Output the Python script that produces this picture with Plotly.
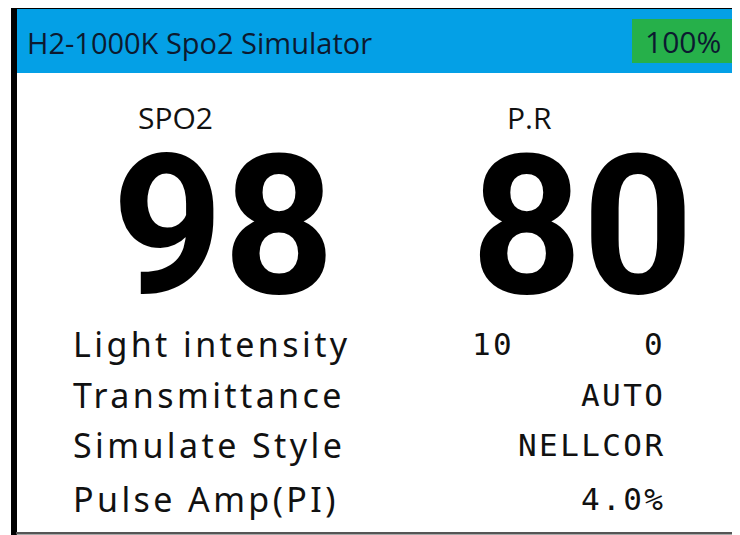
import plotly.graph_objects as go

# ---- data ----
title_text = "H2-1000K Spo2 Simulator"
battery_text = "100%"
metric_names = ["SPO2", "P.R"]
metric_values = [98, 80]
param_labels = ["Light intensity", "Transmittance", "Simulate Style", "Pulse Amp(PI)"]
param_values = ["0", "AUTO", "NELLCOR", "4.0%"]
light_level = "10"

W, H = 740, 535
OFF = 8  # page body margin compensation
fig = go.Figure()
fig.add_trace(go.Scatter(x=[OFF], y=[OFF], mode="markers", marker=dict(opacity=0), hoverinfo="skip", showlegend=False))

BLUE = "#04a0e6"
GREEN = "#26b04a"
DARK = "#0c1a30"

shapes = [
    dict(type="rect", x0=16, x1=W + 20, y0=9, y1=73, fillcolor=BLUE, line_width=0),
    dict(type="rect", x0=632, x1=735, y0=19, y1=63, fillcolor=GREEN, line_width=0),
    dict(type="rect", x0=11, x1=17, y0=3, y1=H + 20, fillcolor="#000", line_width=0),
    dict(type="rect", x0=11, x1=W + 20, y0=3, y1=9, fillcolor="#000", line_width=0),
    dict(type="rect", x0=16, x1=W + 20, y0=532, y1=534.5, fillcolor="#555", line_width=0),
]
for s in shapes:
    s.update(xref="x", yref="y", layer="below")

ann = []
def A(text, x, y, size, family, color="#111", xanchor="left", bold=False, ls=None):
    t = f"<b>{text}</b>" if bold else text
    if ls is not None:
        t = f'<span style="letter-spacing:{ls}px">{t}</span>'
    ann.append(dict(text=t, x=x, y=y, xref="x", yref="y", showarrow=False,
                    xanchor=xanchor, yanchor="middle",
                    font=dict(size=size, family=family, color=color)))

A(title_text, 25, 42, 29, "Open Sans", DARK)
A(battery_text, 683, 41, 30, "Open Sans", DARK, xanchor="center")
A(metric_names[0], 175, 117, 30, "Open Sans", "#111", xanchor="center")
A(metric_names[1], 529, 117, 30, "Open Sans", "#111", xanchor="center")
A(str(metric_values[0]), 223, 226, 194, "Roboto", "#000", xanchor="center", bold=True)
A(str(metric_values[1]), 582, 226, 194, "Roboto", "#000", xanchor="center", bold=True)

ycent = [344, 395, 445, 499]
for lab, val, yc in zip(param_labels, param_values, ycent):
    A(lab, 71, yc, 34, "Noto Sans", "#111", ls=3.4)
    A(val, 667, yc, 31, "DejaVu Sans Mono", "#111", xanchor="right", ls=2.4)
A(light_level, 470, ycent[0], 31, "DejaVu Sans Mono", "#111", ls=2.4)

fig.update_layout(
    width=W, height=H, margin=dict(l=0, r=0, t=0, b=0),
    paper_bgcolor="white", plot_bgcolor="white",
    xaxis=dict(range=[OFF, W + OFF], visible=False, fixedrange=True),
    yaxis=dict(range=[H + OFF, OFF], visible=False, fixedrange=True),
    shapes=shapes, annotations=ann, showlegend=False,
)
fig.write_html("out.html")
